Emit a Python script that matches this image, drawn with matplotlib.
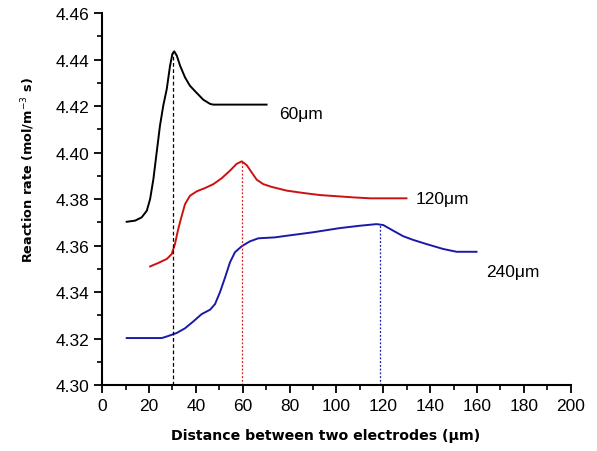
import matplotlib.pyplot as plt
from matplotlib.ticker import MultipleLocator

# gap = 60 um
x60 = [10.5, 14.1, 16.9, 19.1, 20.5, 21.9, 23.3, 24.7, 26.1, 27.6, 29.0, 30.0, 30.8, 31.9,
       33.3, 35.4, 37.5, 40.4, 43.2, 46.1, 47.5, 70.2]
y60 = [4.3702, 4.3707, 4.3721, 4.3750, 4.3800, 4.3886, 4.4001, 4.4115, 4.4201, 4.4273,
       4.4373, 4.4424, 4.4435, 4.4416, 4.4373, 4.4323, 4.4287, 4.4256, 4.4227, 4.4209,
       4.4206, 4.4206]

# gap = 120 um
x120 = [20.5, 24.0, 27.6, 29.7, 31.1, 32.5, 34.0, 35.4, 37.5, 40.4, 43.9, 47.5, 51.0, 54.6,
        57.4, 59.6, 61.7, 63.8, 66.0, 68.8, 72.4, 78.8, 85.8, 93.0, 100.1, 107.2, 114.3, 129.9]
y120 = [4.3510, 4.3525, 4.3542, 4.3563, 4.3606, 4.3671, 4.3728, 4.3778, 4.3814, 4.3833,
        4.3847, 4.3864, 4.3889, 4.3922, 4.3951, 4.3962, 4.3946, 4.3915, 4.3883, 4.3864,
        4.3852, 4.3836, 4.3826, 4.3817, 4.3812, 4.3807, 4.3803, 4.3803]

# gap = 240 um
x240 = [10.5, 25.5, 28.3, 31.9, 35.4, 39.0, 42.5, 46.1, 48.2, 50.3, 52.5, 54.6, 56.7, 59.6,
        63.1, 66.7, 73.8, 78.8, 90.1, 101.5, 110.0, 117.1, 120.0, 124.2, 128.5, 132.8,
        138.5, 145.6, 151.3, 159.8]
y240 = [4.3202, 4.3202, 4.3211, 4.3224, 4.3244, 4.3274, 4.3305, 4.3324, 4.3348, 4.3399,
        4.3463, 4.3528, 4.3571, 4.3597, 4.3618, 4.3631, 4.3635, 4.3642, 4.3657, 4.3675,
        4.3685, 4.3692, 4.3688, 4.3664, 4.3640, 4.3624, 4.3606, 4.3585, 4.3573, 4.3573]

# peak markers: x position, peak value
peak_x = [30.4, 59.6, 118.5]
peak_y = [4.4435, 4.3962, 4.3692]

labels = ['60\u03bcm', '120\u03bcm', '240\u03bcm']
label_x = [75.5, 134.0, 164.0]
label_y = [4.4166, 4.3803, 4.349]

colors = ['black', '#cc1111', '#1a1aa8']
vcolors = ['black', '#d02020', '#1a1aa0']
vstyles = [(0, (3, 2)), (0, (1.5, 1.5)), (0, (1.5, 1.5))]

plt.rcParams['font.family'] = ['Liberation Sans', 'DejaVu Sans']

fig = plt.figure(figsize=(5.97, 4.52), dpi=100)
ax = fig.add_axes([0.171, 0.146, 0.785, 0.823])

for xs, ys, c in zip([x60, x120, x240], [y60, y120, y240], colors):
    ax.plot(xs, ys, color=c, lw=1.4)

for xp, yp, c, ls in zip(peak_x, peak_y, vcolors, vstyles):
    ax.plot([xp, xp], [4.30, yp], color=c, lw=0.9, linestyle=ls)

for t, xt, yt in zip(labels, label_x, label_y):
    ax.text(xt, yt, t, fontsize=12.5, va='center', ha='left')

ax.set_xlim(0, 200)
ax.set_ylim(4.30, 4.46)
ax.xaxis.set_major_locator(MultipleLocator(20))
ax.xaxis.set_minor_locator(MultipleLocator(10))
ax.yaxis.set_major_locator(MultipleLocator(0.02))
ax.yaxis.set_minor_locator(MultipleLocator(0.01))
ax.yaxis.set_major_formatter(plt.FormatStrFormatter('%.2f'))

for s in ['top', 'right']:
    ax.spines[s].set_visible(False)
for s in ['left', 'bottom']:
    ax.spines[s].set_linewidth(1.5)

ax.tick_params(which='major', direction='out', length=6, width=1.3, labelsize=12.5)
ax.tick_params(which='minor', direction='out', length=3.5, width=1.2)

ax.set_xlabel('Distance between two electrodes (\u03bcm)', fontsize=10.2,
              fontweight='bold', family=['DejaVu Sans'])
ax.xaxis.set_label_coords(0.478, -0.115)
ax.set_ylabel('Reaction rate (mol/m$^{-3}$ s)', fontsize=9.3,
              fontweight='bold', family=['DejaVu Sans'])
ax.yaxis.set_label_coords(-0.138, 0.58)

fig.savefig('out.png', dpi=100)
